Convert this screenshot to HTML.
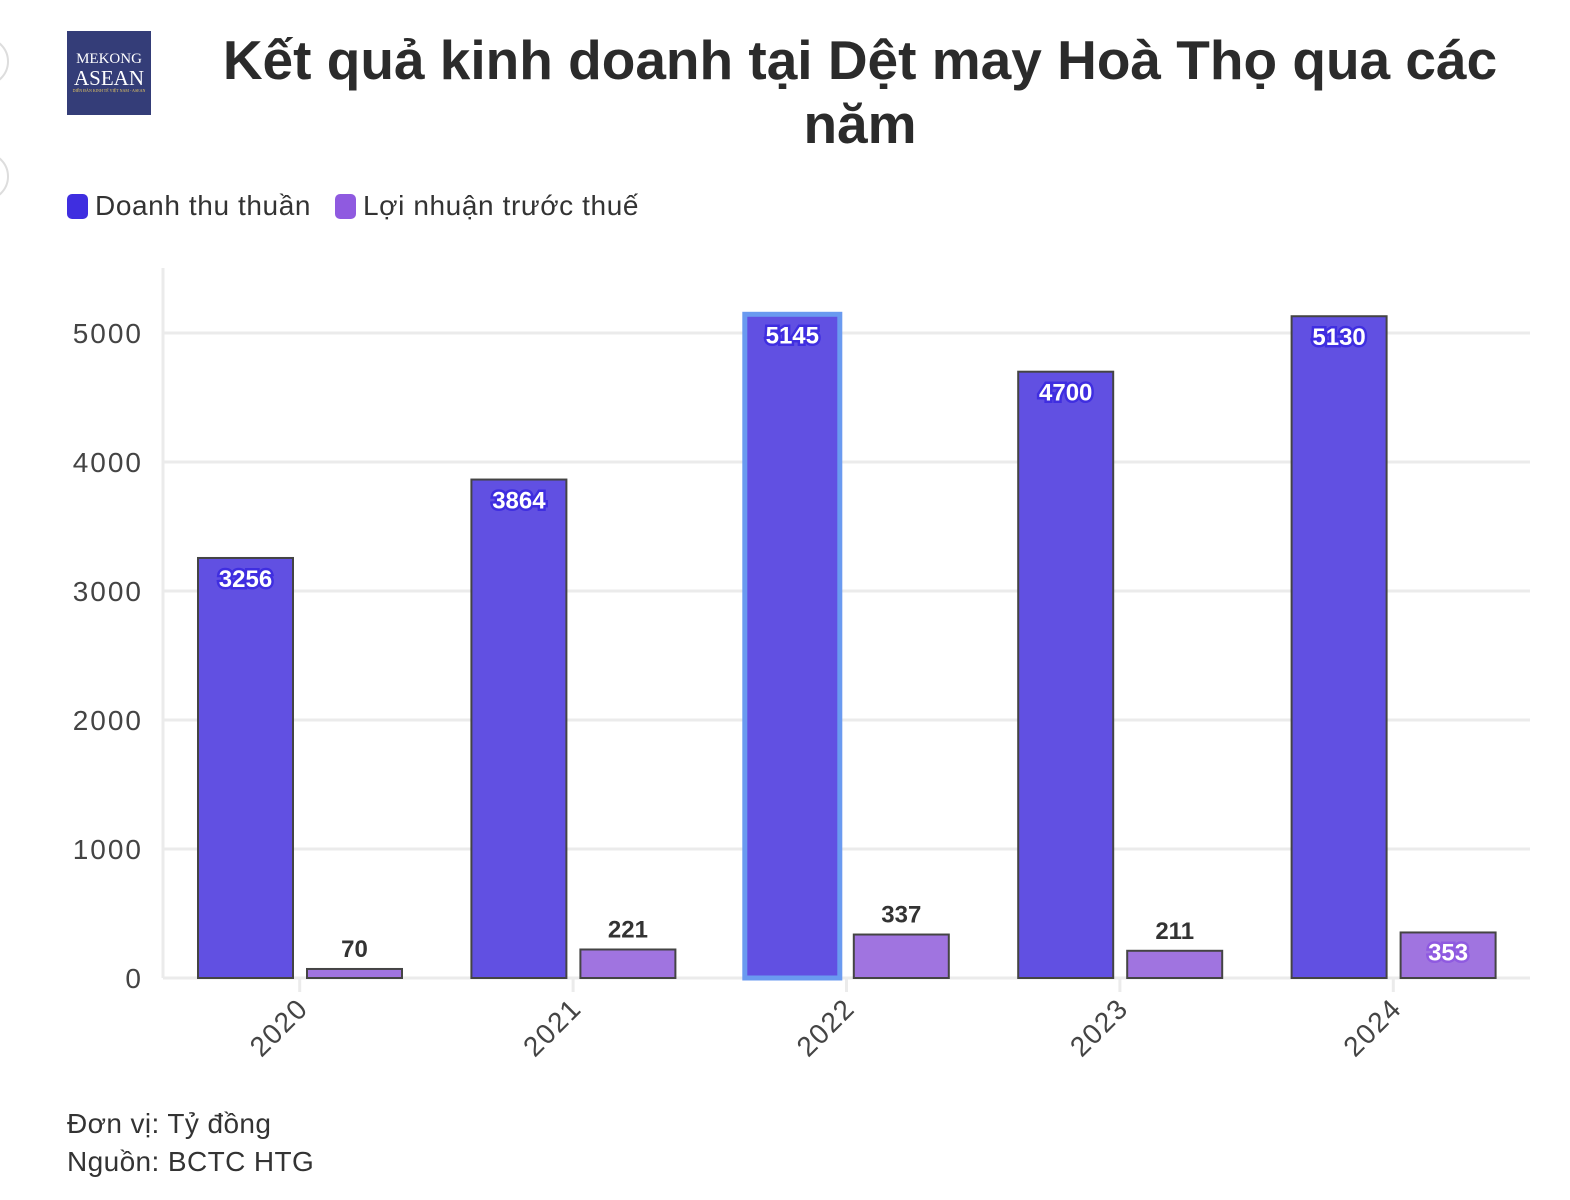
<!DOCTYPE html>
<html><head><meta charset="utf-8"><style>
body{margin:0;width:1570px;height:1200px;background:#fff;font-family:"Liberation Sans",sans-serif;overflow:hidden;position:relative;color:#333}
.t{position:absolute;left:190px;width:1340px;top:28px;text-align:center;font-size:55px;font-weight:bold;line-height:64px;color:#2b2b2b}
.logo{position:absolute;left:67px;top:31px;width:84px;height:84px;background:#343d78;color:#fff;font-family:"Liberation Serif",serif;text-align:center}
.leg{position:absolute;top:190px;font-size:28px;letter-spacing:0.6px;color:#333;display:flex;align-items:center}
.sw{width:21px;height:25px;border-radius:5px;margin-right:7px}
.note{position:absolute;left:67px;font-size:28px;letter-spacing:0.4px;color:#333}
.circ{position:absolute;left:-40px;width:45px;height:45px;border:2px solid #ddd;border-radius:50%}
</style></head><body>
<div class="circ" style="top:37px"></div>
<div class="circ" style="top:152px"></div>
<div class="logo"><div style="font-size:15px;margin-top:20px">MEKONG</div><div style="font-size:21px;line-height:20px">ASEAN</div><div style="font-size:4px;color:#e8c860">DIỄN ĐÀN KINH TẾ VIỆT NAM - ASEAN</div></div>
<div class="t">Kết quả kinh doanh tại Dệt may Hoà Thọ qua các năm</div>
<div class="leg" style="left:67px"><div class="sw" style="background:#3f2ee0"></div>Doanh thu thuần</div>
<div class="leg" style="left:335px"><div class="sw" style="background:#8f5ae0"></div>Lợi nhuận trước thuế</div>
<svg id="c" width="1570" height="1200" style="position:absolute;left:0;top:0"></svg>
<div class="note" style="top:1108px">Đơn vị: Tỷ đồng</div>
<div class="note" style="top:1146px">Nguồn: BCTC HTG</div>
<script>
const categories=["2020","2021","2022","2023","2024"];
const revenue=[3256,3864,5145,4700,5130];
const profit=[70,221,337,211,353];
const yTicks=[0,1000,2000,3000,4000,5000];
const NS="http://www.w3.org/2000/svg";
const svg=document.getElementById('c');
const x0=163,x1=1530,y0=978,pxPer=0.129;
const band=(x1-x0)/categories.length;
const y=v=>y0-v*pxPer;
function mk(t,a,p){const e=document.createElementNS(NS,t);for(const k in a)e.setAttribute(k,a[k]);(p||svg).appendChild(e);return e;}
yTicks.forEach(v=>{
 const l=mk('line',{x1:x0,x2:x1,y1:y(v),y2:y(v),stroke:'#ebebeb','stroke-width':3});
 
 
 const t=mk('text',{x:143,y:y(v)+10,'text-anchor':'end','font-size':28,'letter-spacing':2,fill:'#444','font-family':'Liberation Sans'});
 t.textContent=v;
 
 
});
mk('line',{x1:x0,x2:x0,y1:268,y2:y0,stroke:'#ebebeb','stroke-width':3});
categories.forEach((c,i)=>{
 const bx=x0+i*band;
 const cx=bx+band/2;
 mk('line',{x1:cx,x2:cx,y1:y0,y2:y0+14,stroke:'#ebebeb','stroke-width':3});
 const t=mk('text',{x:0,y:0,'text-anchor':'end','font-size':28,'letter-spacing':1.5,fill:'#444','font-family':'Liberation Sans',transform:`translate(${cx+10},${y0+32}) rotate(-45)`});
 t.textContent=c;
 
 
 const w=95;
 const rx=bx+35, px=rx+w+14;
 const hl=i===2;
 const r=mk('rect',{x:rx,y:y(revenue[i]),width:w,height:y0-y(revenue[i]),fill:'#6150e2',stroke:hl?'#6a9af0':'#444','stroke-width':hl?5:2});
 
 
 const p=mk('rect',{x:px,y:y(profit[i]),width:w,height:y0-y(profit[i]),fill:'#a074e0',stroke:'#444','stroke-width':2});
 
 
 const lt=mk('text',{x:rx+w/2,y:y(revenue[i])+29,'text-anchor':'middle','font-size':24,'font-weight':'bold',fill:'#fff',stroke:'#3f2ee0','stroke-width':5,'paint-order':'stroke','font-family':'Liberation Sans'});
 lt.textContent=revenue[i];
 
 
 const inside=(y0-y(profit[i]))>44.5;
 const pt=mk('text',{x:px+w/2,y:inside?y(profit[i])+28:y(profit[i])-12,'text-anchor':'middle','font-size':24,'font-weight':'bold',fill:inside?'#fff':'#333','font-family':'Liberation Sans'});
 if(inside){pt.setAttribute('stroke','#8f5ae0');pt.setAttribute('stroke-width',5);pt.setAttribute('paint-order','stroke');}
 pt.textContent=profit[i];
 
 
});
</script>
</body></html>
